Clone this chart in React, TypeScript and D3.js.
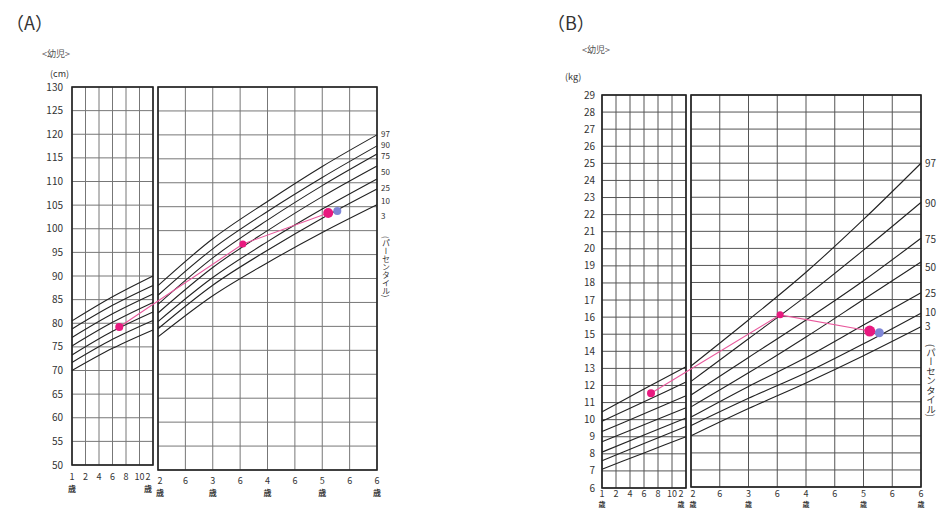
import React from "react";
import * as d3 from "d3";

// percentile names, top curve first
const percentileNames = ["97", "90", "75", "50", "25", "10", "3"];

// ages (months) where the curve values are read
const infantAges = [12, 18, 24];
const childAges = [24, 36, 48, 60, 72];

// (A) height, cm
const heightInfant = [
  [80.5, 85.6, 90.0],
  [78.8, 83.8, 88.0],
  [77.0, 82.0, 86.2],
  [75.2, 80.2, 84.4],
  [73.3, 78.3, 82.4],
  [71.7, 76.6, 80.6],
  [70.0, 74.7, 78.6],
];
const heightChild = [
  [88.5, 98.3, 106.1, 113.4, 120.0],
  [86.5, 96.2, 104.0, 111.1, 117.7],
  [84.6, 94.3, 102.2, 109.4, 116.0],
  [82.8, 92.3, 100.0, 107.1, 113.5],
  [81.0, 90.2, 97.7, 104.5, 110.8],
  [79.5, 88.6, 95.9, 102.6, 108.7],
  [77.8, 86.4, 93.3, 99.6, 105.4],
];

// (B) weight, kg
const weightInfant = [
  [10.45, 11.8, 13.1],
  [9.9, 11.05, 12.2],
  [9.3, 10.35, 11.4],
  [8.7, 9.7, 10.7],
  [8.1, 9.1, 10.1],
  [7.6, 8.6, 9.6],
  [7.1, 8.05, 9.0],
];
const weightChild = [
  [13.1, 15.8, 18.6, 21.7, 25.0],
  [12.2, 14.7, 17.2, 19.9, 22.7],
  [11.4, 13.6, 15.8, 18.1, 20.6],
  [10.7, 12.7, 14.8, 17.0, 19.2],
  [10.1, 11.9, 13.6, 15.5, 17.4],
  [9.6, 11.2, 12.7, 14.4, 16.2],
  [9.0, 10.6, 12.1, 13.7, 15.4],
];

// the child's measurements
const measureAges = [19, 42.6, 61.3];
const measureHeights = [79.2, 97.2, 103.7];
const measureWeights = [11.55, 16.1, 15.15];
const blueAge = 63.3;
const blueHeight = 104.1;
const blueWeight = 15.05;

// bottom axis ticks
const infantTicks = [12, 14, 16, 18, 20, 22, 24];
const infantTickLabels = ["1", "2", "4", "6", "8", "10", "2"];
const childTicks = [24, 30, 36, 42, 48, 54, 60, 66, 72];
const childTickLabels = ["2", "6", "3", "6", "4", "6", "5", "6", "6"];

const FONT = "'Noto Sans CJK JP', 'Noto Sans', sans-serif";
const PINK = "#e8197f";
const BLUE = "#7f86d6";

function Panel(props: any) {
  const {
    title, titleX, unit, unitX, unitY, kidsX, kidsY,
    xL, xR, yTop, yBotL, yBotR, yMin, yMax, yStep, tickX, tickSize,
    infant, child, mValues, bValue, labelX, labelSize, labelNudge,
    pctTextX, pctTextY, pctSize, botY, saiGap, botSize, saiSize, gridColor, dotR,
  } = props;

  const xl = d3.scaleLinear().domain([12, 24]).range(xL);
  const xr = d3.scaleLinear().domain([24, 72]).range(xR);
  const yl = d3.scaleLinear().domain([yMin, yMax]).range([yBotL, yTop]);
  const yr = d3.scaleLinear().domain([yMin, yMax]).range([yBotR, yTop]);

  const yVals = d3.range(yMin, yMax + 0.001, yStep);
  const lineL = d3.line<number>().x((_, i) => xl(infantAges[i])).y((d) => yl(d)).curve(d3.curveMonotoneX);
  const lineR = d3.line<number>().x((_, i) => xr(childAges[i])).y((d) => yr(d)).curve(d3.curveMonotoneX);

  const px = (a: number) => (a <= 24 ? xl(a) : xr(a));
  const py = (a: number, v: number) => (a <= 24 ? yl(v) : yr(v));
  const pts: [number, number][] = measureAges.map((a, i) => [px(a), py(a, mValues[i])]);

  return (
    <g fontFamily={FONT}>
      <text x={titleX} y={30} fontSize={18} fill="#333">（{title}）</text>
      <text x={kidsX} y={kidsY} fontSize={9} fill="#555">&lt;幼児&gt;</text>
      <text x={unitX} y={unitY} fontSize={9} fill="#333">{unit}</text>

      {/* left box grid */}
      {yVals.map((v) => (
        <line key={"hl" + v} x1={xL[0]} x2={xL[1]} y1={yl(v)} y2={yl(v)} stroke={gridColor} strokeWidth={1} />
      ))}
      {d3.range(12, 24.01, 2).map((m) => (
        <line key={"vl" + m} x1={xl(m)} x2={xl(m)} y1={yTop} y2={yBotL} stroke={gridColor} strokeWidth={1} />
      ))}
      <rect x={xL[0]} y={yTop} width={xL[1] - xL[0]} height={yBotL - yTop} fill="none" stroke="#222" strokeWidth={1.6} />

      {/* right box grid */}
      {yVals.map((v) => (
        <line key={"hr" + v} x1={xR[0]} x2={xR[1]} y1={yr(v)} y2={yr(v)} stroke={gridColor} strokeWidth={1} />
      ))}
      {d3.range(24, 72.01, 6).map((m) => (
        <line key={"vr" + m} x1={xr(m)} x2={xr(m)} y1={yTop} y2={yBotR} stroke={gridColor} strokeWidth={1} />
      ))}
      <rect x={xR[0]} y={yTop} width={xR[1] - xR[0]} height={yBotR - yTop} fill="none" stroke="#222" strokeWidth={1.6} />

      {/* y tick labels */}
      {yVals.map((v) => (
        <text key={"yt" + v} x={tickX} y={yl(v)} dy="0.35em" textAnchor="end" fontSize={tickSize} fill="#333">{v}</text>
      ))}

      {/* percentile curves */}
      {infant.map((row: number[], i: number) => (
        <path key={"ci" + i} d={lineL(row) || ""} fill="none" stroke="#222" strokeWidth={1.1} />
      ))}
      {child.map((row: number[], i: number) => (
        <path key={"cc" + i} d={lineR(row) || ""} fill="none" stroke="#222" strokeWidth={1.1} />
      ))}

      {/* percentile labels */}
      {child.map((row: number[], i: number) => (
        <text key={"pl" + i} x={labelX} y={yr(row[row.length - 1]) + labelNudge[i]} dy="0.35em" fontSize={labelSize} fill="#333">
          {percentileNames[i]}
        </text>
      ))}
      <text x={pctTextX} y={pctTextY} fontSize={pctSize} fill="#333" style={{ writingMode: "vertical-rl" } as any}>
        (パーセンタイル)
      </text>

      {/* bottom labels */}
      {infantTicks.map((m, i) => (
        <text key={"bi" + i} x={xl(m) + (i === infantTicks.length - 1 ? -5 : 0)} y={botY[0]} textAnchor="middle" fontSize={botSize} fill="#333">
          {infantTickLabels[i]}
        </text>
      ))}
      {[12, 24].map((m, i) => (
        <text key={"si" + i} x={xl(m) + (i === 1 ? -5 : 0)} y={botY[0] + saiGap} textAnchor="middle" fontSize={saiSize} fontWeight="bold" fill="#333">歳</text>
      ))}
      {childTicks.map((m, i) => (
        <text key={"bc" + i} x={xr(m) + (i === 0 ? 2 : 0)} y={botY[1]} textAnchor="middle" fontSize={botSize} fill="#333">
          {childTickLabels[i]}
        </text>
      ))}
      {[24, 36, 48, 60, 72].map((m, i) => (
        <text key={"sc" + i} x={xr(m) + (i === 0 ? 2 : 0)} y={botY[1] + saiGap} textAnchor="middle" fontSize={saiSize} fontWeight="bold" fill="#333">歳</text>
      ))}

      {/* measurements */}
      <path d={d3.line()(pts) || ""} fill="none" stroke="#e8589c" strokeWidth={1.1} />
      <circle cx={xr(blueAge)} cy={yr(bValue)} r={dotR[2] - 1} fill={BLUE} />
      {pts.map((p, i) => (
        <circle key={"m" + i} cx={p[0]} cy={p[1]} r={dotR[i]} fill={PINK} />
      ))}
    </g>
  );
}

export default function App() {
  return (
    <svg width={942} height={509} style={{ display: "block", position: "absolute", left: 0, top: 0, background: "#fff" }}>
      <Panel
        title="A" titleX={6} unit="(cm)" unitX={50} unitY={77} kidsX={42} kidsY={57}
        xL={[72, 153]} xR={[158, 377]} yTop={87} yBotL={465} yBotR={470}
        yMin={50} yMax={130} yStep={5} tickX={63} tickSize={10}
        infant={heightInfant} child={heightChild} mValues={measureHeights} bValue={blueHeight}
        labelX={381} labelSize={8} labelNudge={[-1, -1, 2, 6, 9, 12, 11]}
        pctTextX={386} pctTextY={236} pctSize={8}
        botY={[480, 484]} saiGap={12} botSize={9} saiSize={8} gridColor="#777" dotR={[4, 3.5, 5]}
      />
      <Panel
        title="B" titleX={547} unit="(kg)" unitX={565} unitY={80} kidsX={582} kidsY={53}
        xL={[602, 686]} xR={[691, 921]} yTop={95} yBotL={488} yBotR={487}
        yMin={6} yMax={29} yStep={1} tickX={595} tickSize={10}
        infant={weightInfant} child={weightChild} mValues={measureWeights} bValue={blueWeight}
        labelX={925} labelSize={10} labelNudge={[0, 1, 1, 5, 1, -1, 0]}
        pctTextX={931} pctTextY={344} pctSize={9.5}
        botY={[497, 497]} saiGap={10} botSize={9} saiSize={7} gridColor="#555" dotR={[4, 3.5, 5.5]}
      />
    </svg>
  );
}
